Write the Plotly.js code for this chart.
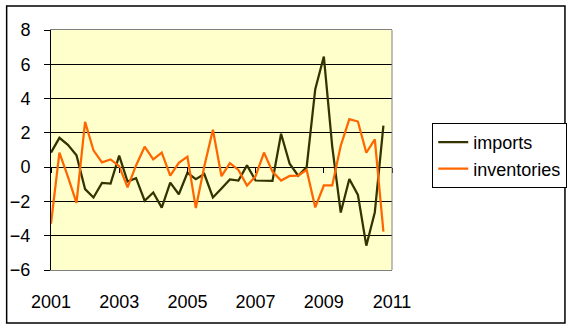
<!DOCTYPE html>
<html>
<head>
<meta charset="utf-8">
<script src="https://cdn.plot.ly/plotly-3.0.1.min.js"></script>
<style>
html,body{margin:0;padding:0;background:#fff;}
#chart{width:579px;height:331px;}
</style>
</head>
<body>
<div id="chart"></div>
<script>
// Quarterly observations, 2001Q1 - 2010Q4
var quarters = [
 "2001-01-01","2001-04-01","2001-07-01","2001-10-01",
 "2002-01-01","2002-04-01","2002-07-01","2002-10-01",
 "2003-01-01","2003-04-01","2003-07-01","2003-10-01",
 "2004-01-01","2004-04-01","2004-07-01","2004-10-01",
 "2005-01-01","2005-04-01","2005-07-01","2005-10-01",
 "2006-01-01","2006-04-01","2006-07-01","2006-10-01",
 "2007-01-01","2007-04-01","2007-07-01","2007-10-01",
 "2008-01-01","2008-04-01","2008-07-01","2008-10-01",
 "2009-01-01","2009-04-01","2009-07-01","2009-10-01",
 "2010-01-01","2010-04-01","2010-07-01","2010-10-01"
];
var imports = [0.85, 1.71, 1.3, 0.69, -1.28, -1.77, -0.92, -0.96, 0.67, -0.84,
               -0.64, -1.96, -1.48, -2.36, -0.9, -1.58, -0.33, -0.7, -0.4, -1.77,
               -1.24, -0.72, -0.78, 0.1, -0.78, -0.78, -0.8, 1.95, 0.2, -0.5,
               0.0, 4.55, 6.45, 1.2, -2.65, -0.69, -1.62, -4.58, -2.63, 2.42];
var inventories = [-3.3, 0.85, -0.55, -2.08, 2.64, 0.98, 0.28, 0.45, 0.06, -1.18,
                   0.1, 1.19, 0.45, 0.85, -0.49, 0.25, 0.61, -2.39, 0.05, 2.18,
                   -0.53, 0.23, -0.16, -1.08, -0.53, 0.85, -0.26, -0.78, -0.51, -0.49,
                   -0.16, -2.35, -1.07, -1.07, 1.25, 2.8, 2.66, 0.84, 1.62, -3.76];
var tickDates = ["2001-01-01","2003-01-01","2005-01-01","2007-01-01","2009-01-01","2011-01-01"];
var tickLabels = ["2001","2003","2005","2007","2009","2011"];
var yTicks = [-6,-4,-2,0,2,4,6,8];

var FONT = "Liberation Sans, Arial, sans-serif";

var traces = [
  {x: quarters, y: imports, name: "imports", type: "scatter", mode: "lines",
   line: {color: "#333300", width: 2.25}},
  {x: quarters, y: inventories, name: "inventories", type: "scatter", mode: "lines",
   line: {color: "#FF6600", width: 2.25}},
  // carrier for the category-axis tick marks that sit on the zero line
  {x: [], y: [], xaxis: "x2", yaxis: "y", type: "scatter", mode: "lines",
   showlegend: false, hoverinfo: "skip"}
];

var layout = {
  width: 579, height: 331,
  margin: {l: 51, r: 182, t: 30, b: 61},
  paper_bgcolor: "#ffffff",
  plot_bgcolor: "#FFFFCC",
  font: {family: FONT, size: 18, color: "#000"},
  showlegend: true,
  legend: {
    x: 1.118, y: 0.6125, xanchor: "left", yanchor: "top",
    bordercolor: "#000", borderwidth: 1, bgcolor: "#fff",
    font: {family: FONT, size: 18, color: "#000"},
    tracegroupgap: 0, itemwidth: 30
  },
  xaxis: {
    type: "date",
    range: ["2001-01-01", "2011-01-01"],
    tickmode: "array", tickvals: tickDates, ticktext: tickLabels,
    ticks: "", showgrid: false, zeroline: false,
    showline: true, linecolor: "#808080", linewidth: 1, mirror: true,
    ticklabelstandoff: 15,
    tickfont: {family: FONT, size: 18, color: "#000"}
  },
  xaxis2: {
    type: "date", overlaying: "x", matches: "x", anchor: "free", position: 6/14,
    range: ["2001-01-01", "2011-01-01"],
    tickmode: "array", tickvals: tickDates,
    ticks: "outside", ticklen: 5, tickcolor: "#000", tickwidth: 1,
    showticklabels: false, showgrid: false, zeroline: false, showline: false
  },
  yaxis: {
    range: [-6, 8], tickmode: "array", tickvals: yTicks,
    ticks: "outside", ticklen: 6, tickcolor: "#000", tickwidth: 1,
    showgrid: true, gridcolor: "#000", gridwidth: 1,
    zeroline: false, showline: true, linecolor: "#000", linewidth: 1,
    ticklabelstandoff: 10,
    tickfont: {family: FONT, size: 18, color: "#000"}
  },
  shapes: [
    {type: "line", xref: "paper", yref: "paper", x0: 1, x1: 1, y0: 0, y1: 1,
     line: {color: "#808080", width: 1}},
    {type: "rect", xref: "paper", yref: "paper", x0: -0.13006, x1: 1.5072, y0: -0.2208, y1: 1.1,
     line: {color: "#000", width: 1.5}, fillcolor: "rgba(0,0,0,0)"}
  ]
};

Plotly.newPlot("chart", traces, layout, {displayModeBar: false, staticPlot: true});
</script>
</body>
</html>
